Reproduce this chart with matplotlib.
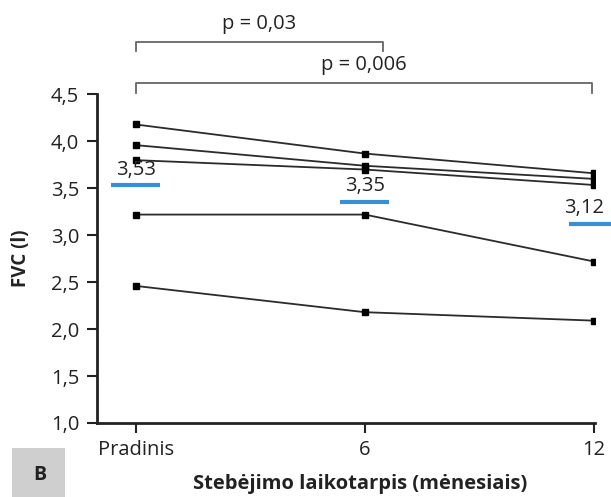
import matplotlib
matplotlib.use('Agg')
import matplotlib.pyplot as plt
from matplotlib.patches import Rectangle

plt.rcParams['font.family'] = ['Open Sans', 'DejaVu Sans']

# ==================== DATA ====================
categories = ['Pradinis', '6', '12']
patients = [
    [4.18, 3.87, 3.66],
    [3.96, 3.74, 3.60],
    [3.80, 3.70, 3.535],
    [3.22, 3.22, 2.72],
    [2.46, 2.18, 2.09],
]
means = [3.53, 3.35, 3.12]
mean_labels = ['3,53', '3,35', '3,12']
y_ticks = [1.0, 1.5, 2.0, 2.5, 3.0, 3.5, 4.0, 4.5]
y_tick_labels = ['1,0', '1,5', '2,0', '2,5', '3,0', '3,5', '4,0', '4,5']
brackets = [(0, 1.08, 5.06, 'p = 0,03'), (0, 1.99, 4.62, 'p = 0,006')]
# ==============================================

FS = 14.5

fig = plt.figure(figsize=(6.11, 4.97), dpi=100)
ax = fig.add_axes([0.159, 0.149, 0.815, 0.661])
x = list(range(len(categories)))

for vals in patients:
    ax.plot(x, vals, color='#2b2b2b', lw=1.3, marker='s', markersize=5,
            markerfacecolor='black', markeredgecolor='black', zorder=3)

# group means (last label nudged left so it stays inside the figure)
label_shift = [0, 0, -0.045]
for xi, m, lab, dx in zip(x, means, mean_labels, label_shift):
    ax.plot([xi - 0.107, xi + 0.107], [m, m], color='#3a8ed6', lw=3,
            solid_capstyle='butt', clip_on=False, zorder=4)
    ax.text(xi + dx, m + 0.17, lab, ha='center', va='center', fontsize=FS,
            color='#222222')

# significance brackets
for x0, x1, yb, lab in brackets:
    ax.plot([x0, x0, x1, x1], [yb - 0.1, yb, yb, yb - 0.1], color='#666666', lw=1.3,
            clip_on=False)
    ax.text((x0 + x1) / 2, yb + 0.19, lab, ha='center', va='center', fontsize=FS,
            color='#222222')

ax.set_xlim(-0.168, 2.005)
ax.set_ylim(1.0, 4.5)
ax.set_xticks(x)
ax.set_xticklabels(categories)
ax.set_yticks(y_ticks)
ax.set_yticklabels(y_tick_labels)
ax.tick_params(axis='both', labelsize=FS, length=7, width=1.5, color='#222222',
               labelcolor='#222222')
ax.tick_params(axis='y', pad=6)
ax.tick_params(axis='x', pad=5)

for side in ['top', 'right']:
    ax.spines[side].set_visible(False)
for side in ['left', 'bottom']:
    ax.spines[side].set_linewidth(2)
    ax.spines[side].set_color('#222222')

fig.text(21 / 611, 1 - 258 / 497, 'FVC (l)', rotation=90, ha='center', va='center',
         fontsize=13.5, fontweight='bold', color='#222222')
fig.text(360 / 611, 1 - 484 / 497, 'Stebėjimo laikotarpis (mėnesiais)', ha='center',
         va='center', fontsize=14.5, fontweight='bold', color='#222222')

fig.patches.append(Rectangle((12 / 611, 0), 53 / 611, 49 / 497, transform=fig.transFigure,
                             facecolor='#cfcfcf', edgecolor='none'))
fig.text(40 / 611, 1 - 475 / 497, 'B', ha='center', va='center', fontsize=14,
         fontweight='bold', color='#222222')

fig.savefig('out.png', dpi=100)
